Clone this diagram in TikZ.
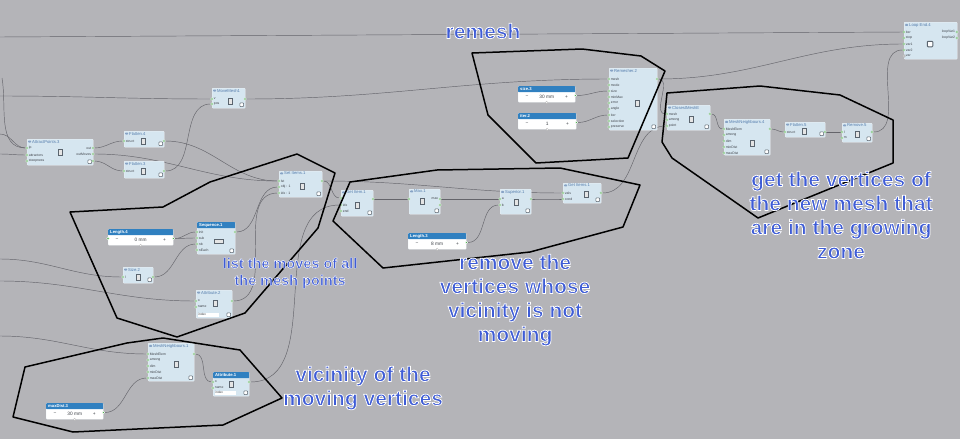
\documentclass[tikz,border=0pt]{standalone}
\usepackage{fontspec}
\setmainfont{Liberation Sans}
\pgfdeclarelayer{wires}
\pgfsetlayers{wires,main}
\definecolor{bgc}{RGB}{180,180,184}
\definecolor{wirec}{RGB}{100,100,106}
\definecolor{compf}{RGB}{214,230,240}
\definecolor{compb}{RGB}{238,244,248}
\definecolor{titc}{RGB}{84,124,172}
\definecolor{labc}{RGB}{60,64,70}
\definecolor{dotc}{RGB}{72,170,72}
\definecolor{headc}{RGB}{48,128,192}
\definecolor{annc}{RGB}{62,92,214}
\definecolor{icoc}{RGB}{90,100,110}
\tikzset{
 comp/.style={draw=compb, fill=compf, line width=0.4pt, rounded corners=0.8pt, inner sep=0pt},
 ctitle/.style={font=\fontsize{4.2}{5}\selectfont, text=titc, inner sep=0pt},
 htext/.style={font=\fontsize{4.2}{5}\selectfont\bfseries, text=white, inner sep=0pt},
 plab/.style={font=\fontsize{3.4}{4}\selectfont, text=labc, inner sep=0pt},
 dot/.style={circle, fill=dotc, draw=white, line width=0.3pt, minimum size=2.6pt, inner sep=0pt},
 hdot/.style={circle, fill=white, draw=gray, line width=0.3pt, minimum size=2.6pt, inner sep=0pt},
 bhead/.style={fill=headc, minimum height=6pt, inner sep=0pt, rounded corners=0.6pt},
 sbody/.style={fill=white, draw=compb, minimum height=16pt, inner sep=0pt, rounded corners=0.8pt},
 sval/.style={font=\fontsize{4.8}{5}\selectfont, text=labc, inner sep=0pt},
 knob/.style={circle, fill=white, draw=gray!60, line width=0.3pt, minimum size=2.4pt, inner sep=0pt},
 prev/.style={draw=icoc, fill=white, line width=0.5pt, rounded corners=0.6pt, minimum size=3.6pt, inner sep=0pt},
 eyei/.style={fill=titc!70, rounded corners=0.8pt, minimum width=3pt, minimum height=2pt, inner sep=0pt},
 ico/.style={draw=icoc, fill=white!80!gray, line width=0.4pt, minimum width=4pt, minimum height=6pt, inner sep=0pt},
 fieldbox/.style={fill=white, minimum height=4.5pt, inner sep=0.6pt, font=\fontsize{3.2}{4}\selectfont, text=labc, align=left},
 wire/.style={draw=wirec, line width=0.45pt},
 grp/.style={draw=black, line width=1.5pt, line join=round},
 ann/.style={font=\fontsize{21}{24}\selectfont\bfseries, text=annc, align=center, inner sep=0pt},
 anns/.style={font=\fontsize{14.5}{17}\selectfont\bfseries, text=annc, align=center, inner sep=0pt}
}
\newcommand\olt[2][0.75]{\special{pdf:literal direct 2 Tr #1 w 1 1 1 RG}#2\special{pdf:literal direct 0 Tr}}
\newcommand\comp[6]{%
 \node[comp, minimum width=#4pt, minimum height=#5pt, anchor=north west] (#1) at (#2,#3) {};
 \node[ctitle, anchor=north west] (#1-ti) at ([xshift=5pt,yshift=-0.8pt]#1.north west) {#6};
 \node[eyei, anchor=east] (#1-eye) at ([xshift=-0.7pt]#1-ti.west) {};
 \node[prev, anchor=south east] (#1-pv) at ([xshift=-1.6pt,yshift=1.6pt]#1.south east) {};}
\newcommand\bcomp[6]{%
 \node[comp, minimum width=#4pt, minimum height=#5pt, anchor=north west] (#1) at (#2,#3) {};
 \node[bhead, minimum width=#4pt, anchor=north west] (#1-h) at (#1.north west) {};
 \node[htext, anchor=west] (#1-ti) at ([xshift=2pt]#1-h.west) {#6};
 \node[prev, anchor=south east] (#1-pv) at ([xshift=-1.6pt,yshift=1.6pt]#1.south east) {};}
\newcommand\slider[6]{%
 \node[sbody, minimum width=#4pt, anchor=north west] (#1) at (#2,#3) {};
 \node[bhead, minimum width=#4pt, anchor=north west] (#1-h) at (#1.north west) {};
 \node[htext, anchor=west] (#1-ht) at ([xshift=2pt]#1-h.west) {#5};
 \node[sval] (#1-v) at ([yshift=-10.8pt]#1.north) {#6};
 \node[sval] (#1-mi) at ([xshift=9pt,yshift=-10.8pt]#1.north west) {−};
 \node[sval] (#1-pl) at ([xshift=-9pt,yshift=-10.8pt]#1.north east) {+};
 \node[knob] (#1-k) at (#1.south) {};
 \node[dot] (#1-o) at ([yshift=-9.5pt]#1.north east) {};}
\newcommand\pin[3]{\node[dot] (#1) at (#2) {};\node[plab,anchor=west] (#1-t) at ([xshift=1.7pt]#1.center) {#3};}
\newcommand\pout[3]{\node[dot] (#1) at (#2) {};\node[plab,anchor=east] (#1-t) at ([xshift=-1.7pt]#1.center) {#3};}
\begin{document}
\begin{tikzpicture}[x=1pt,y=-1pt]
\begin{pgfonlayer}{wires}
\fill[bgc] (0,0) rectangle (960,439);
\end{pgfonlayer}
\useasboundingbox (0,0) rectangle (960,439);

% ---------- components ----------
\comp{ap}{27}{139}{66}{26}{AttractPoints.3}
\pin{ap-ip}{27,148}{ip}
\pin{ap-at}{27,155}{attractors}
\pin{ap-st}{27,161}{steepness}
\pout{ap-o1}{93,148}{out}
\pout{ap-o2}{93,154}{outMoves}
\node[dot] (ap-o3) at (93,161) {};
\node[ico] (ap-ic) at (60,152) {};

\comp{fl4}{124}{131}{40}{16}{Flatten.4}
\pin{fl4-i}{124,141}{struct}
\node[dot] (fl4-o) at (164,141) {};
\node[ico] (fl4-ic) at (143,141) {};

\comp{fl3}{124}{161}{40}{17}{Flatten.3}
\pin{fl3-i}{124,171}{struct}
\node[dot] (fl3-o) at (164,171) {};
\node[ico] (fl3-ic) at (143,171) {};

\comp{mm}{212}{88}{33}{20}{MoveMesh1}
\pin{mm-v}{212,99}{v}
\pin{mm-p}{212,104}{pos}
\node[dot] (mm-o) at (245,99) {};
\node[ico] (mm-ic) at (230,101) {};

\comp{si}{279}{171}{43}{26}{Set Items.1}
\pin{si-l}{279,181}{lst}
\pin{si-b}{279,187}{obj : 1}
\pin{si-x}{279,193}{idx : 1}
\node[dot] (si-o) at (322,181) {};
\node[ico] (si-ic) at (302,186) {};

\slider{len4}{108}{229}{65}{Length.4}{0 mm}
\node[dot] (len4-i) at (108,238.5) {};

\bcomp{seq}{197}{222}{38}{32}{Sequence.1}
\pin{seq-a}{197,232}{init}
\pin{seq-b}{197,238}{sub}
\pin{seq-c}{197,244}{nb}
\pin{seq-d}{197,250}{nEach}
\node[dot] (seq-o) at (235,232) {};
\node[ico, minimum width=9pt, minimum height=4pt] (seq-ic) at (219,241) {};

\comp{sz}{123}{267}{30}{16}{Size.2}
\pin{sz-i}{123,277}{l}
\node[dot] (sz-o) at (153,277) {};
\node[ico] (sz-ic) at (138,277) {};

\comp{at2}{196}{290}{36}{28}{Attribute.2}
\pin{at2-o}{196,301}{o}
\pin{at2-n}{196,307}{name}
\node[dot] (at2-out) at (232,301) {};
\node[ico] (at2-ic) at (215,303) {};
\node[fieldbox, text width=20pt, anchor=south west] (at2-f) at ([xshift=1.5pt,yshift=1.2pt]at2.south west) {index};

\comp{mn1}{148}{343}{46}{38}{MeshNeighbours.1}
\pin{mn1-a}{148,354}{MeshElem}
\pin{mn1-b}{148,360}{among}
\pin{mn1-c}{148,366}{dim}
\pin{mn1-d}{148,372}{minDist}
\pin{mn1-e}{148,378}{maxDist}
\node[dot] (mn1-o) at (194,354) {};
\node[ico] (mn1-ic) at (176,364) {};

\bcomp{at1}{213}{372}{36}{24}{Attribute.1}
\pin{at1-o}{213,382}{o}
\pin{at1-n}{213,388}{name}
\node[dot] (at1-out) at (249,382) {};
\node[ico] (at1-ic) at (231,384) {};
\node[fieldbox, text width=20pt, anchor=south west] (at1-f) at ([xshift=1.5pt,yshift=1.2pt]at1.south west) {index};

\slider{md3}{46}{403}{57}{maxDist.3}{30 mm}

\comp{gi}{341}{190}{32}{26}{Get Item.1}
\pin{gi-l}{341,198}{l}
\pin{gi-x}{341,205}{idx}
\pin{gi-e}{341,211}{end}
\node[dot] (gi-o) at (373,199) {};
\node[ico] (gi-ic) at (357,205) {};

\comp{mx}{409}{189}{31}{25}{Max.1}
\node[dot] (mx-i) at (409,199) {};
\pout{mx-o1}{440,199}{max}
\node[dot] (mx-o2) at (440,205) {};
\node[ico] (mx-ic) at (422,201) {};

\comp{sup}{500}{189}{31}{25}{Superior.1}
\pin{sup-a}{500,199}{a}
\pin{sup-b}{500,205}{b}
\node[dot] (sup-o) at (531,199) {};
\node[ico] (sup-ic) at (516,202) {};

\comp{gis}{563}{183}{38}{20}{Get Items.1}
\pin{gis-v}{563,193}{vals}
\pin{gis-c}{563,199}{cond}
\node[dot] (gis-o) at (601,193) {};
\node[ico] (gis-ic) at (586,194) {};

\slider{len3}{408}{233}{58}{Length.3}{8 mm}
\slider{sz3}{518}{86}{57}{size.3}{30 mm}
\slider{it2}{518}{113}{58}{iter.2}{1}

\comp{rm}{609}{68}{48}{62}{Remesher.2}
\pin{rm-me}{609,79}{mesh}
\pin{rm-mo}{609,85}{mode}
\pin{rm-si}{609,91}{size}
\pin{rm-mm}{609,97}{minMax}
\pin{rm-er}{609,103}{error}
\pin{rm-an}{609,109}{angle}
\pin{rm-it}{609,115}{iter}
\pin{rm-se}{609,121}{selection}
\pin{rm-pr}{609,127}{preserve}
\node[dot] (rm-o) at (657,79) {};
\node[ico] (rm-ic) at (637,103) {};

\comp{cm}{667}{105}{43}{25}{ClosestMeshE}
\pin{cm-me}{667,114}{mesh}
\pin{cm-am}{667,120}{among}
\pin{cm-pt}{667,126}{point}
\node[dot] (cm-o) at (710,114) {};
\node[ico] (cm-ic) at (691,119) {};

\comp{mn4}{724}{119}{46}{36}{MeshNeighbours.4}
\pin{mn4-a}{724,129}{MeshElem}
\pin{mn4-b}{724,135}{among}
\pin{mn4-c}{724,141}{dim}
\pin{mn4-d}{724,147}{minDist}
\pin{mn4-e}{724,153}{maxDist}
\node[dot] (mn4-o) at (770,129) {};
\node[ico] (mn4-ic) at (752,143) {};

\comp{fl5}{785}{122}{40}{15}{Flatten.5}
\pin{fl5-i}{785,132}{struct}
\node[dot] (fl5-o) at (825,132) {};
\node[ico] (fl5-ic) at (804,131) {};

\comp{rv}{842}{123}{30}{19}{Remove.5}
\pin{rv-l}{842,132}{l}
\pin{rv-m}{842,138}{m}
\node[dot] (rv-o) at (872,132) {};
\node[ico] (rv-ic) at (857,134) {};

\node[comp, minimum width=53pt, minimum height=37pt, anchor=north west] (le) at (904,22) {};
\node[ctitle, anchor=north west] (le-ti) at ([xshift=5pt,yshift=-0.8pt]le.north west) {Loop End.4};
\node[eyei, anchor=east] (le-eye) at ([xshift=-0.7pt]le-ti.west) {};
\pin{le-it}{904,32}{iter}
\pin{le-st}{904,38}{stop}
\pin{le-v1}{904,44}{var1}
\pin{le-v2}{904,50}{var2}
\node[hdot] (le-v) at (904,56) {};
\node[plab, anchor=west] (le-vt) at ([xshift=1.7pt]le-v.center) {var};
\pout{le-o1}{957,32}{loopVar1}
\pout{le-o2}{957,38}{loopVar2}
\node[draw=icoc, fill=white, line width=1pt, rounded corners=0.8pt, minimum size=5.5pt, inner sep=0pt] (le-ic) at (930,44) {};

% ---------- free ends ----------
\coordinate (e0) at (0,37);
\coordinate (e1) at (0,96);
\coordinate (e2) at (0,134);
\coordinate (e3) at (2,78);
\coordinate (e4) at (0,154);
\coordinate (e5) at (0,259);
\coordinate (e6) at (0,281);
\coordinate (e7) at (0,336);

% ---------- wires ----------
\begin{pgfonlayer}{wires}
\draw[wire] (e0) -- (le-it);
\draw[wire] (e1) to[out=0,in=180] (mm-v);
\draw[wire] (e2) to[out=0,in=180] (ap-ip);
\draw[wire] (e3) to[out=-80,in=180] (ap-ip);
\draw[wire] (e4) to[out=0,in=180] (ap-at);
\draw[wire] (ap-o1) to[out=0,in=180] (fl4-i);
\draw[wire] (ap-o2) to[out=0,in=180] (si-l);
\draw[wire] (ap-o3) to[out=0,in=180] (fl3-i);
\draw[wire] (fl4-o) to[out=0,in=180] (si-l);
\draw[wire] (fl3-o) to[out=0,in=180] (mm-p);
\draw[wire] (mm-o) to[out=0,in=180] (rm-me);
\draw[wire] (rm-o) to[out=0,in=180] (le-v1);
\draw[wire] (rm-o) to[out=0,in=180] (cm-me);
\draw[wire] (sz3-o) to[out=0,in=180] (rm-si);
\draw[wire] (it2-o) to[out=0,in=180] (rm-it);
\draw[wire] (len4-o) to[out=0,in=180] (seq-a);
\draw[wire] (len4-o) to[out=0,in=180] (seq-b);
\draw[wire] (sz-o) to[out=0,in=180] (seq-c);
\draw[wire] (e5) to[out=0,in=180] (sz-i);
\draw[wire] (e6) to[out=0,in=180] (at2-o);
\draw[wire] (seq-o) to[out=0,in=180] (si-b);
\draw[wire] (at2-out) to[out=0,in=180] (si-x);
\draw[wire] (e7) to[out=0,in=180] (mn1-a);
\draw[wire] (md3-o) to[out=0,in=180] (mn1-e);
\draw[wire] (mn1-o) to[out=0,in=180] (at1-o);
\draw[wire] (at1-out) to[out=0,in=180] (gi-x);
\draw[wire] (si-o) to[out=0,in=180] (gi-l);
\draw[wire] (si-o) to[out=0,in=180] (gis-v);
\draw[wire] (gi-o) -- (mx-i);
\draw[wire] (mx-o1) -- (sup-a);
\draw[wire] (len3-o) to[out=0,in=180] (sup-b);
\draw[wire] (sup-o) to[out=0,in=180] (gis-c);
\draw[wire] (gis-o) to[out=0,in=180] (cm-pt);
\draw[wire] (cm-o) to[out=0,in=180] (mn4-a);
\draw[wire] (mn4-o) to[out=0,in=180] (fl5-i);
\draw[wire] (fl5-o) -- (rv-l);
\draw[wire] (rv-o) to[out=0,in=180] (le-v2);
\end{pgfonlayer}

% ---------- group outlines ----------
\draw[grp] (472,53) -- (582,49) -- (641,56) -- (665,71) -- (628,158) -- (536,163) -- (488,115) -- cycle;
\draw[grp] (667,93) -- (760,86) -- (840,95) -- (893,120) -- (893,163) -- (758,218) -- (672,158) -- (662,142) -- cycle;
\draw[grp] (70,212) -- (163,207) -- (210,182) -- (297,154) -- (335,173) -- (318,228) -- (245,313) -- (177,337) -- (117,318) -- cycle;
\draw[grp] (350,182) -- (437,170) -- (560,168) -- (640,185) -- (623,227) -- (530,252) -- (383,268) -- (333,221) -- cycle;
\draw[grp] (25,367) -- (127,343) -- (163,338) -- (240,350) -- (282,398) -- (223,425) -- (73,432) -- (13,417) -- cycle;

% ---------- annotations ----------
\node[ann] (t-remesh) at (483,31) {\olt{remesh}};
\node[anns] (t-list) at (290,273) {\olt[0.45]{list the moves of all}\\\olt[0.45]{the mesh points}};
\node[ann] (t-remove) at (515,300) {\olt{remove the}\\\olt{vertices whose}\\\olt{vicinity is not}\\\olt{moving}};
\node[ann] (t-vic) at (363,388) {\olt{vicinity of the}\\\olt{moving vertices}};
\node[ann] (t-get) at (841,215) {\olt{get the vertices of}\\\olt{the new mesh that}\\\olt{are in the growing}\\\olt{zone}};
\end{tikzpicture}
\end{document}
